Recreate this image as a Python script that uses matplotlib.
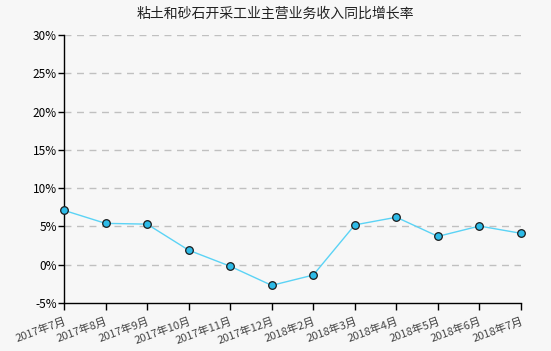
import matplotlib
matplotlib.use("Agg")
import matplotlib.pyplot as plt
from matplotlib.ticker import FuncFormatter

plt.rcParams['font.family'] = ['Noto Sans CJK SC', 'DejaVu Sans']

# data
months = ['2017年7月', '2017年8月', '2017年9月', '2017年10月', '2017年11月',
          '2017年12月', '2018年2月', '2018年3月', '2018年4月', '2018年5月',
          '2018年6月', '2018年7月']
growth = [7.1, 5.4, 5.3, 1.9, -0.2, -2.7, -1.35, 5.2, 6.2, 3.7, 5.05, 4.1]
y_ticks = [-5, 0, 5, 10, 15, 20, 25, 30]

BG = '#f7f7f7'

fig = plt.figure(figsize=(5.51, 3.51), dpi=100, facecolor=BG)
ax = fig.add_axes([64 / 551, 1 - 303 / 351, (521 - 64) / 551, (303 - 35) / 351])
ax.set_facecolor(BG)

x = list(range(len(months)))
ax.plot(x, growth, color='#5bd3f5', linewidth=1, zorder=3)
ax.scatter(x, growth, s=30, facecolor='#2dbbe8', edgecolor='#1a1a1a',
           linewidth=0.9, zorder=4, clip_on=False)

ax.set_xlim(0, len(months) - 1)
ax.set_ylim(-5, 30)
ax.set_yticks(y_ticks)
ax.yaxis.set_major_formatter(FuncFormatter(lambda v, _: f"{v:.0f}%"))
ax.set_xticks(x)
ax.set_xticklabels(months, rotation=20, ha='right', rotation_mode='anchor',
                   fontsize=8, color='#444444')
ax.tick_params(axis='y', labelsize=8.5, length=4, width=1, color='black', pad=1)
ax.tick_params(axis='x', length=5, width=1, color='black', pad=4)

for v in y_ticks[1:]:
    ax.axhline(v, color='#c0c0c0', linewidth=1, linestyle=(0, (5, 4)), zorder=1)

for s in ['top', 'right']:
    ax.spines[s].set_visible(False)
for s in ['left', 'bottom']:
    ax.spines[s].set_color('black')
    ax.spines[s].set_linewidth(1)

fig.text(0.5, 1 - 14 / 351, '粘土和砂石开采工业主营业务收入同比增长率',
         ha='center', va='center', fontsize=10, color='#222222')

fig.savefig('out.png', dpi=100, facecolor=BG)
